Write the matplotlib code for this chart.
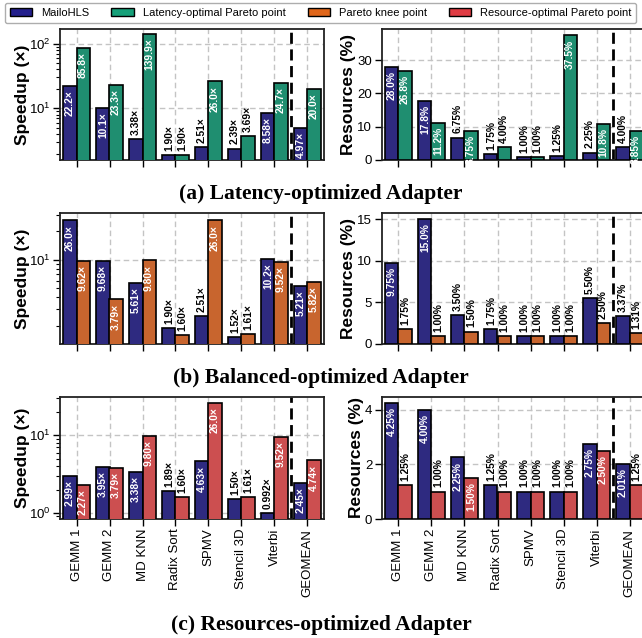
import matplotlib
matplotlib.use("Agg")
import matplotlib.pyplot as plt
from matplotlib.patches import Patch
import numpy as np

plt.rcParams['font.family'] = ['Liberation Sans', 'DejaVu Sans']
plt.rcParams['mathtext.fontset'] = 'custom'
plt.rcParams['mathtext.rm'] = 'Liberation Sans'

benchmarks = ["GEMM 1", "GEMM 2", "MD KNN", "Radix Sort", "SPMV", "Stencil 3D", "Viterbi", "GEOMEAN"]

# (a) Latency-optimized
mailo_speed_lat = [22.2, 10.1, 3.38, 1.90, 2.51, 2.39, 8.58, 4.97]
pareto_speed_lat = [85.8, 23.3, 139.9, 1.90, 26.0, 3.69, 24.7, 20.0]
mailo_res_lat = [28.0, 17.8, 6.75, 1.75, 1.00, 1.25, 2.25, 4.00]
pareto_res_lat = [26.8, 11.2, 8.75, 4.00, 1.00, 37.5, 10.8, 8.85]

# (b) Balanced-optimized
mailo_speed_bal = [26.0, 9.68, 5.61, 1.90, 2.51, 1.52, 10.2, 5.21]
pareto_speed_bal = [9.62, 3.79, 9.80, 1.60, 26.0, 1.61, 9.52, 5.82]
mailo_res_bal = [9.75, 15.0, 3.50, 1.75, 1.00, 1.00, 5.50, 3.37]
pareto_res_bal = [1.75, 1.00, 1.50, 1.00, 1.00, 1.00, 2.50, 1.31]

# (c) Resources-optimized
mailo_speed_res = [2.99, 3.95, 3.38, 1.89, 4.63, 1.50, 0.992, 2.45]
pareto_speed_res = [2.27, 3.79, 9.80, 1.60, 26.0, 1.61, 9.52, 4.74]
mailo_res_res = [4.25, 4.00, 2.25, 1.25, 1.00, 1.00, 2.75, 2.01]
pareto_res_res = [1.25, 1.00, 1.50, 1.00, 1.00, 1.00, 2.50, 1.25]

legend_labels = ["MailoHLS", "Latency-optimal Pareto point", "Pareto knee point",
                 "Resource-optimal Pareto point"]
captions = ["(a) Latency-optimized Adapter", "(b) Balanced-optimized Adapter",
            "(c) Resources-optimized Adapter"]

navy = '#2e2a80'
bar_colors = ['#1f8e70', '#c8652e', '#cc4f50']
leg_colors = ['#231f8c', '#16a079', '#e0661a', '#e03c44']

W, H = 642, 638
fig = plt.figure(figsize=(W / 100, H / 100), dpi=100)

rows_px = [(29, 160), (213, 344), (397, 519)]
cols_px = [(60, 324), (382, 646)]
cap_y = [194, 378, 625]
right_thr = [0.2, 0.4, 0.3]
left_thr = 0.235
label_family = ['Liberation Sans Narrow', 'Liberation Sans', 'DejaVu Sans']

data = [
    (mailo_speed_lat, pareto_speed_lat, mailo_res_lat, pareto_res_lat),
    (mailo_speed_bal, pareto_speed_bal, mailo_res_bal, pareto_res_bal),
    (mailo_speed_res, pareto_speed_res, mailo_res_res, pareto_res_res),
]

x = np.arange(len(benchmarks))
bw = 0.4


def fmt_speed(v):
    if v >= 10:
        return f"{v:.1f}×"
    if v >= 1:
        return f"{v:.2f}×"
    return f"{v:.3f}×"


def fmt_res(v):
    if v >= 10:
        return f"{v:.1f}%"
    return f"{v:.2f}%"


def style_axes(ax, last):
    for s in ax.spines.values():
        s.set_linewidth(1.3)
        s.set_color('#222222')
    ax.set_axisbelow(True)
    ax.grid(True, which='major', linestyle=(0, (4, 2.5)), color='#c4c4c4', linewidth=1.0)
    ax.set_xticks(x)
    ax.set_xlim(-0.5, len(benchmarks) - 0.5)
    ax.tick_params(axis='both', which='major', length=5, width=1.0, labelsize=9.5, pad=2)
    ax.tick_params(axis='both', which='minor', length=3, width=0.8)
    if last:
        ax.set_xticklabels(benchmarks, rotation=90, fontsize=9.5)
    else:
        ax.set_xticklabels([])
    ax.axvline(6.5, color='black', linestyle=(0, (4, 2)), linewidth=2.0)


def add_labels(ax, vals, xs, thr, fmt, frac_fn):
    for xi, v in zip(xs, vals):
        f = frac_fn(v)
        if f > thr:
            ax.annotate(fmt(v), (xi, v), xytext=(0, -3), textcoords='offset points',
                        rotation=90, ha='center', va='top', color='white',
                        fontsize=7.4, fontweight='bold', family=label_family)
        else:
            ax.annotate(fmt(v), (xi, v), xytext=(0, 3), textcoords='offset points',
                        rotation=90, ha='center', va='bottom', color='black',
                        fontsize=7.4, fontweight='bold', family=label_family)


for r, (ms, ps, mr, pr) in enumerate(data):
    top, bot = rows_px[r]
    last = (r == 2)
    # speedup
    l, rr = cols_px[0]
    ax = fig.add_axes([l / W, 1 - bot / H, (rr - l) / W, (bot - top) / H])
    ax.bar(x - bw / 2, ms, bw, color=navy, edgecolor='black', linewidth=1.2, zorder=3)
    ax.bar(x + bw / 2, ps, bw, color=bar_colors[r], edgecolor='black', linewidth=1.2, zorder=3)
    ax.set_yscale('log')
    lo = min(min(ms), min(ps)) * 0.84
    hi = max(max(ms), max(ps)) * 1.2
    ax.set_ylim(lo, hi)
    style_axes(ax, last)
    ax.set_ylabel("Speedup (×)", fontsize=12.5, fontweight='bold', labelpad=-1)
    fr = lambda v, lo=lo, hi=hi: np.log10(v / lo) / np.log10(hi / lo)
    add_labels(ax, ms, x - bw / 2, left_thr, fmt_speed, fr)
    add_labels(ax, ps, x + bw / 2, left_thr, fmt_speed, fr)

    # resources
    l, rr = cols_px[1]
    ax = fig.add_axes([l / W, 1 - bot / H, (rr - l) / W, (bot - top) / H])
    ax.bar(x - bw / 2, mr, bw, color=navy, edgecolor='black', linewidth=1.2, zorder=3)
    ax.bar(x + bw / 2, pr, bw, color=bar_colors[r], edgecolor='black', linewidth=1.2, zorder=3)
    hi = max(max(mr), max(pr)) * 1.05
    ax.set_ylim(0, hi)
    style_axes(ax, last)
    ax.set_ylabel("Resources (%)", fontsize=12.5, fontweight='bold', labelpad=1)
    fr = lambda v, hi=hi: v / hi
    add_labels(ax, mr, x - bw / 2, right_thr[r], fmt_res, fr)
    add_labels(ax, pr, x + bw / 2, right_thr[r], fmt_res, fr)

    fig.text(0.5, 1 - cap_y[r] / H, captions[r], ha='center', va='center',
             family='Liberation Serif', fontweight='bold', fontsize=15.5)

handles = [Patch(facecolor=c, edgecolor='black', linewidth=1.0) for c in leg_colors]
fig.legend(handles, legend_labels, loc='upper left', bbox_to_anchor=(5 / W, 1 - 3 / H),
           ncol=4, fontsize=8.0, frameon=True, edgecolor='#999999', fancybox=True,
           borderpad=0.45, columnspacing=2.0, handletextpad=0.8, handlelength=2.0,
           borderaxespad=0)

fig.savefig("out.png", dpi=100)
